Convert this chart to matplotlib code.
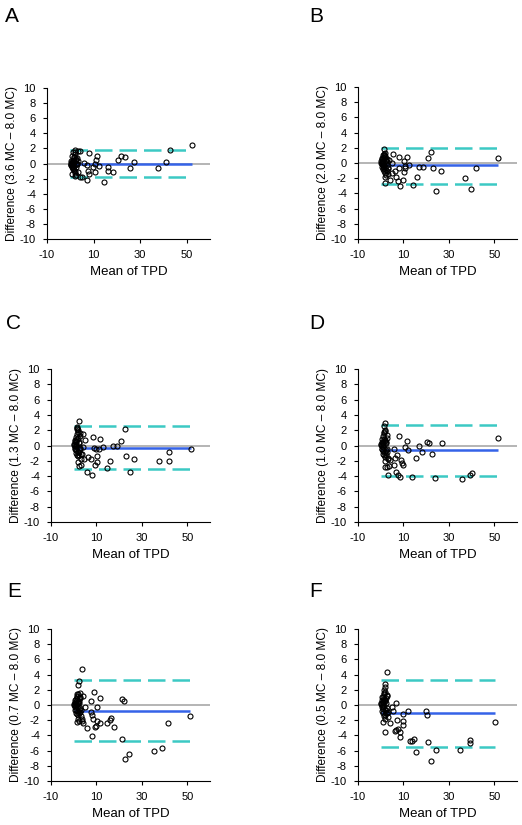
import numpy as np
import matplotlib
matplotlib.use("Agg")
import matplotlib.pyplot as plt

plt.rcParams["font.family"] = ["Liberation Sans Narrow", "Liberation Sans", "DejaVu Sans"]
plt.rcParams["axes.unicode_minus"] = False

# panel labels / y labels
letters = ["A", "B", "C", "D", "E", "F"]
ylabels = [
    "Difference (3.6 MC \u2013 8.0 MC)",
    "Difference (2.0 MC \u2013 8.0 MC)",
    "Difference (1.3 MC \u2013 8.0 MC)",
    "Difference (1.0 MC \u2013 8.0 MC)",
    "Difference (0.7 MC \u2013 8.0 MC)",
    "Difference (0.5 MC \u2013 8.0 MC)",
]

# bias and limits of agreement per panel
bias = [0.0, -0.3, -0.3, -0.57, -0.74, -1.09]
upper_loa = [1.78, 2.0, 2.52, 2.7, 3.26, 3.26]
lower_loa = [-1.78, -2.7, -3.13, -3.96, -4.7, -5.48]

# points near zero TPD (same x for every panel)
cluster_x = [0.2, 0.4, 0.5, 0.6, 0.8, 0.9, 1.0, 1.1, 1.3, 1.4, 1.5, 1.7, 1.8, 2.0, 2.1, 2.3, 2.5, 2.7,
             2.9, 3.1, 0.3, 0.7, 1.2, 1.6, 1.9, 2.2, 2.4, 2.6, 0.5, 1.0, 1.5, 2.0, 2.8, 3.4, 0.9, 1.3]

# panel A
a_x = [52.3, 42.8, 41.3, 37.5, 27.2, 25.6, 23.5, 21.8, 20.4, 18.2, 16.3, 16.2, 14.5, 12.5, 11.4, 11.0,
       10.6, 10.4, 9.7, 8.2, 8.0, 7.5, 7.2, 7.2, 6.1, 4.2, 4.9, 4.1, 3.2, 2.5, 2.0, 1.0]
a_y = [2.48, 1.8, 0.17, -0.57, 0.2, -0.57, 0.9, 1.0, 0.48, -1.1, -0.96, -0.52, -2.4, -0.3, 1.0, 0.52,
       -0.1, -1.17, -0.43, 1.39, -1.4, -1.0, -2.17, -0.2, 0.1, 1.6, -1.74, -1.74, -1.17, -1.5, 1.74, 1.5]
a_cy = [0.1, -0.2, 0.3, 0.0, 0.2, -0.4, 0.5, 0.1, -0.6, 0.8, -0.3, 0.4, -0.9, 1.2, -1.3, 0.6, -0.5, 0.0,
        -0.1, 0.3, -0.2, 1.0, -0.7, 0.2, -1.6, 1.5, 0.4, -0.1, 0.0, -0.4, 0.9, -1.0, 0.7, 1.6, -1.4, 0.2]

# panel B
b_x = [51.7, 41.9, 39.8, 37.1, 26.7, 24.3, 22.9, 22.1, 20.6, 18.5, 16.9, 15.8, 14.3, 12.4, 11.5, 10.5,
       10.2, 10.6, 10.4, 9.6, 8.0, 8.2, 8.3, 7.7, 6.8, 6.1, 5.5, 5.1, 4.9, 4.2, 3.2, 3.5, 2.0, 1.6]
b_y = [0.6, -0.7, -3.4, -2.0, -1.0, -3.7, -0.7, 1.4, 0.7, -0.5, -0.5, -1.8, -2.9, -0.26, 0.83, -0.35,
       0.3, -0.7, -1.17, -2.2, 0.83, -0.7, -3.0, -2.35, -1.8, -1.1, 1.17, 0.0, -1.35, -2.2, -0.7, 0.4, -2.6, 1.8]
b_cy = [0.2, -0.1, 0.5, 0.0, 1.0, -0.4, 0.3, -0.8, 1.2, -0.2, 0.6, -1.3, 0.9, -0.5, 1.3, -1.6, 0.4, -1.0,
        0.1, -0.6, 0.0, 0.7, -0.3, 1.1, -1.9, 0.2, -0.9, 0.5, -0.5, 0.1, -1.1, 0.8, -0.2, -1.4, 0.4, -0.7]

# panel C
c_x = [51.6, 41.8, 41.8, 37.5, 26.7, 24.8, 22.8, 22.7, 20.9, 18.9, 17.4, 16.0, 14.5, 12.9, 11.7, 11.1,
       10.4, 10.1, 9.5, 9.8, 8.9, 8.5, 8.0, 7.4, 6.4, 5.7, 5.1, 4.5, 4.2, 4.2, 3.8, 3.0, 2.2, 2.5, 1.6]
c_y = [-0.4, -0.87, -2.0, -2.0, -1.8, -3.4, -1.4, 2.17, 0.6, -0.13, 0.0, -2.0, -3.0, -0.17, 0.83, -0.52,
       -1.4, -2.17, -2.57, -0.43, -0.35, 1.09, -3.9, -1.74, -1.5, -3.5, 0.74, -1.8, 1.5, -0.2, -1.09, -2.6,
       -2.7, 3.2, 2.17]
c_cy = [0.2, -0.3, 0.6, 0.0, 1.1, -0.6, 0.4, -1.0, 1.5, -0.2, 0.9, -1.4, 1.8, -0.8, 2.0, -1.3, 0.5, -0.4,
        1.3, -1.1, 0.1, 0.7, -0.1, 2.3, -2.2, 0.3, -0.9, 1.6, -0.5, 0.2, -1.2, 1.0, -0.3, -1.7, 0.6, 2.4]

# panel D
d_x = [51.8, 40.2, 39.3, 35.7, 27.2, 23.9, 22.4, 21.4, 20.2, 18.2, 16.9, 15.7, 13.6, 12.2, 11.5, 10.6,
       9.7, 9.4, 9.1, 8.1, 8.7, 7.5, 7.2, 6.4, 6.6, 5.8, 5.8, 3.9, 3.3, 3.6, 2.6, 1.7, 2.1, 1.7]
d_y = [1.0, -3.65, -3.8, -4.35, 0.3, -4.2, -1.17, 0.3, 0.4, -0.87, -0.09, -1.65, -4.13, -0.6, 0.65, -0.26,
       -2.5, -2.3, -1.87, 1.2, -4.1, -3.9, -1.3, -1.65, -3.5, -2.57, -0.48, -1.87, -3.83, -2.7, -2.83, -2.87,
       3.0, 1.96]
d_cy = [0.1, -0.4, 0.5, 0.0, 1.2, -0.7, 0.3, -1.1, 1.6, -0.3, 0.8, -1.5, 2.0, -0.9, 0.6, -1.2, 0.4, -0.5,
        1.4, -1.8, 0.2, 0.9, -0.2, 2.5, -2.0, 0.3, -0.6, 1.0, -0.4, 0.1, -1.3, 0.7, -0.8, -1.6, 0.5, 1.8]

# panel E
e_x = [51.1, 41.5, 39.0, 35.3, 24.5, 22.7, 22.0, 21.3, 21.1, 17.6, 16.6, 16.0, 14.8, 11.7, 11.6, 10.4,
       10.1, 9.6, 9.2, 8.8, 8.3, 8.0, 7.9, 7.7, 7.6, 6.0, 5.1, 4.2, 3.8, 3.5, 2.5, 2.0, 3.9, 3.5, 2.5, 1.4, 2.8]
e_y = [-1.4, -2.43, -5.6, -6.04, -6.4, -7.17, 0.48, -4.5, 0.78, -2.83, -1.74, -2.0, -2.35, 0.87, -2.43,
       -0.3, -2.1, -2.74, -2.9, 1.7, -1.78, -4.04, -1.3, -0.96, 0.52, -3.0, -0.26, -2.43, -1.78, 4.74, 3.22,
       2.57, 1.22, -2.17, -2.13, -2.26, 1.57]
e_cy = [0.1, -0.3, 0.4, 0.0, 0.8, -0.6, 0.2, -1.0, 1.2, -0.2, 0.6, -1.3, 1.4, -0.8, 0.3, -1.1, 0.5, -0.4,
        1.0, -1.5, 0.0, 0.7, -0.1, 1.5, -1.8, 0.2, -0.5, 0.9, -0.7, 0.1, -1.2, 0.4, -0.9, -0.6, 0.3, 1.1]

# panel F
f_x = [50.3, 39.5, 39.1, 35.0, 24.3, 22.3, 20.7, 20.5, 19.9, 15.5, 14.7, 13.6, 12.9, 12.2, 9.9, 9.9,
       9.6, 8.7, 8.4, 7.7, 7.1, 6.9, 6.8, 6.1, 5.5, 4.9, 4.0, 2.6, 1.7, 1.2, 2.1, 1.8]
f_y = [-2.3, -4.96, -4.6, -5.87, -5.87, -7.35, -4.83, -1.3, -0.83, -6.13, -4.43, -4.7, -4.7, -0.74, -2.09,
       -2.65, -1.22, -4.26, -3.57, -3.22, -1.91, 0.22, -3.3, -3.43, -0.78, -0.26, -2.39, 4.3, -3.5, -2.3,
       2.35, 2.78]
f_cy = [0.2, -0.2, 0.6, 0.0, 1.1, -0.5, 0.4, -1.0, 1.5, -0.1, 0.8, -1.3, 1.7, -0.7, 0.5, -1.1, 0.9, -0.4,
        1.3, -1.6, 0.1, 1.0, -0.3, 2.0, -1.9, 0.3, -0.6, 1.2, -0.8, 0.2, -1.4, 0.7, -1.0, -0.9, 0.5, 1.6]

xs = [a_x, b_x, c_x, d_x, e_x, f_x]
ys = [a_y, b_y, c_y, d_y, e_y, f_y]
cys = [a_cy, b_cy, c_cy, d_cy, e_cy, f_cy]

W, H = 522, 825
# axes boxes in pixels: left, right, top, bottom
boxes = [(47, 210, 88, 239), (358, 517, 87, 239),
         (51, 210, 369, 522), (358, 517, 369, 522),
         (51, 210, 629, 781), (358, 517, 629, 781)]
letter_pos = [(5, 7), (309, 7), (6, 314), (309, 314), (7, 582), (309, 582)]

BLUE = "#3563e8"
CYAN = "#3cc9c4"
GRAY = "#a8a8a8"

fig = plt.figure(figsize=(W / 100, H / 100), dpi=100)

for i in range(6):
    l, r, t, b = boxes[i]
    ax = fig.add_axes([l / W, 1 - b / H, (r - l) / W, (b - t) / H])
    x = np.array(xs[i] + cluster_x)
    y = np.array(ys[i] + cys[i])
    xmax = max(x)

    ax.axhline(0, color=GRAY, lw=1.2, zorder=1)
    ax.hlines(bias[i], 0, xmax, color=BLUE, lw=1.8, zorder=2)
    for lim in (upper_loa[i], lower_loa[i]):
        ax.plot([0, xmax], [lim, lim], color=CYAN, lw=1.8, dashes=(7, 2.8), zorder=2)
    ax.plot(x, y, "o", mfc="none", mec="black", ms=3.6, mew=0.8, zorder=3)

    ax.set_xlim(-10, 60)
    ax.set_ylim(-10, 10)
    ax.set_xticks([-10, 10, 30, 50])
    ax.set_yticks(range(-10, 11, 2))
    ax.spines["top"].set_visible(False)
    ax.spines["right"].set_visible(False)
    ax.spines["left"].set_linewidth(0.8)
    ax.spines["bottom"].set_linewidth(0.8)
    ax.tick_params(direction="out", length=3, width=0.8, labelsize=8, pad=5)
    ax.set_xlabel("Mean of TPD", fontsize=9.5, labelpad=4)
    ax.set_ylabel(ylabels[i], fontsize=8.6, labelpad=1)

    lx, ly = letter_pos[i]
    fig.text(lx / W, 1 - ly / H, letters[i], fontsize=15, va="top", ha="left",
             family=["Liberation Sans", "DejaVu Sans"])

fig.savefig("out.png", dpi=100)
